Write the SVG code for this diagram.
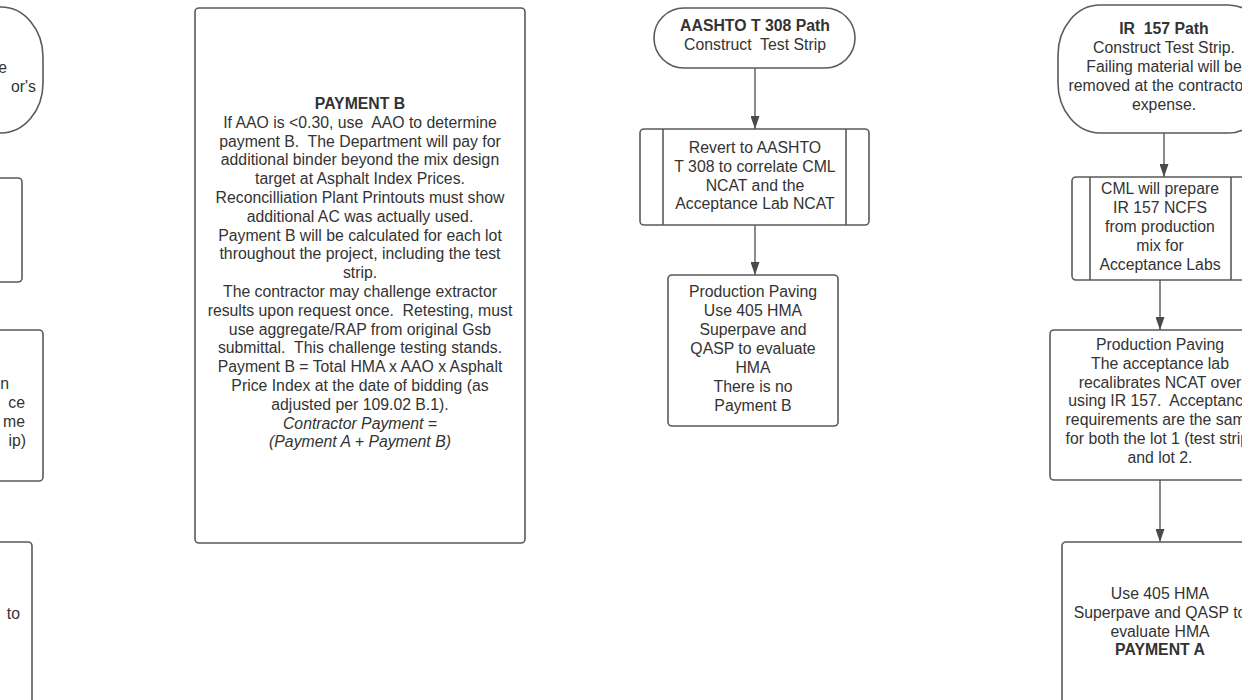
<svg xmlns="http://www.w3.org/2000/svg" width="1242" height="700" viewBox="0 0 1242 700">
<defs>
<style>
.shape{fill:#ffffff;stroke:#5a5a5a;stroke-width:1.6}
.t{font-family:"Liberation Sans",Arial,sans-serif;font-size:15.8px;fill:#333333;text-anchor:middle;white-space:pre}
.e{text-anchor:end}
.b{font-weight:bold}
.i{font-style:italic}
.conn{stroke:#5a5a5a;stroke-width:1.4;fill:none}
</style>
<marker id="arr" viewBox="0 0 13 9" refX="13" refY="4.5" markerWidth="13" markerHeight="9" markerUnits="userSpaceOnUse" orient="auto">
<path d="M0,0 L13,4.5 L0,9 z" fill="#4a4a4a"/>
</marker>
</defs>
<rect width="1242" height="700" fill="#ffffff"/>

<g id="left-terminator">
<rect class="shape" x="-180" y="7" width="223" height="126" rx="42" ry="50"/>
<text class="t e" x="7" y="73">e</text>
<text class="t e" x="36" y="92">or's</text>
</g>
<g id="left-box-2">
<rect class="shape" x="-180" y="178" width="202" height="104" rx="4"/>
</g>
<g id="left-box-3">
<rect class="shape" x="-180" y="330" width="223" height="151" rx="4"/>
<text class="t e" x="9" y="389">n</text>
<text class="t e" x="25" y="408">ce</text>
<text class="t e" x="25" y="427">me</text>
<text class="t e" x="26" y="446">ip)</text>
</g>
<g id="left-box-4">
<rect class="shape" x="-180" y="542" width="212" height="200" rx="4"/>
<text class="t e" x="20" y="619">to</text>
</g>

<g id="payment-b">
<rect class="shape" x="195" y="8" width="330" height="535" rx="4"/>
<text class="t" x="360" y="109"><tspan class="b">PAYMENT B</tspan><tspan x="360" dy="18.8">If AAO is &lt;0.30, use  AAO to determine</tspan><tspan x="360" dy="18.8">payment B.  The Department will pay for</tspan><tspan x="360" dy="18.8">additional binder beyond the mix design</tspan><tspan x="360" dy="18.8">target at Asphalt Index Prices.</tspan><tspan x="360" dy="18.8">Reconcilliation Plant Printouts must show</tspan><tspan x="360" dy="18.8">additional AC was actually used.</tspan><tspan x="360" dy="18.8">Payment B will be calculated for each lot</tspan><tspan x="360" dy="18.8">throughout the project, including the test</tspan><tspan x="360" dy="18.8">strip.</tspan><tspan x="360" dy="18.8">The contractor may challenge extractor</tspan><tspan x="360" dy="18.8">results upon request once.  Retesting, must</tspan><tspan x="360" dy="18.8">use aggregate/RAP from original Gsb</tspan><tspan x="360" dy="18.8">submittal.  This challenge testing stands.</tspan><tspan x="360" dy="18.8">Payment B = Total HMA x AAO x Asphalt</tspan><tspan x="360" dy="18.8">Price Index at the date of bidding (as</tspan><tspan x="360" dy="18.8">adjusted per 109.02 B.1).</tspan><tspan x="360" dy="18.8" class="i">Contractor Payment =</tspan><tspan x="360" dy="18.8" class="i">(Payment A + Payment B)</tspan></text>
</g>

<g id="aashto-start">
<rect class="shape" x="654" y="8" width="201" height="60" rx="30"/>
<text class="t" x="755" y="31"><tspan class="b">AASHTO T 308 Path</tspan><tspan x="755" dy="19">Construct  Test Strip</tspan></text>
</g>
<g id="aashto-revert">
<rect class="shape" x="640" y="129" width="229" height="96" rx="4"/>
<line class="shape" x1="663" y1="129" x2="663" y2="225"/>
<line class="shape" x1="846" y1="129" x2="846" y2="225"/>
<text class="t" x="755" y="153"><tspan>Revert to AASHTO</tspan><tspan x="755" dy="18.8">T 308 to correlate CML</tspan><tspan x="755" dy="18.8">NCAT and the</tspan><tspan x="755" dy="18.8">Acceptance Lab NCAT</tspan></text>
</g>
<g id="aashto-production">
<rect class="shape" x="668" y="275" width="170" height="151" rx="4"/>
<text class="t" x="753" y="297"><tspan>Production Paving</tspan><tspan x="753" dy="19">Use 405 HMA</tspan><tspan x="753" dy="19">Superpave and</tspan><tspan x="753" dy="19">QASP to evaluate</tspan><tspan x="753" dy="19">HMA</tspan><tspan x="753" dy="19">There is no</tspan><tspan x="753" dy="19">Payment B</tspan></text>
</g>

<g id="ir157-start">
<rect class="shape" x="1058" y="5" width="212" height="128" rx="42" ry="50"/>
<text class="t" x="1164" y="34"><tspan class="b">IR  157 Path</tspan><tspan x="1164" dy="19">Construct Test Strip.</tspan><tspan x="1164" dy="19">Failing material will be</tspan><tspan x="1164" dy="19">removed at the contractor's</tspan><tspan x="1164" dy="19">expense.</tspan></text>
</g>
<g id="ir157-cml">
<rect class="shape" x="1072" y="177" width="177" height="103" rx="4"/>
<line class="shape" x1="1090" y1="177" x2="1090" y2="280"/>
<line class="shape" x1="1231" y1="177" x2="1231" y2="280"/>
<text class="t" x="1160" y="194"><tspan>CML will prepare</tspan><tspan x="1160" dy="19">IR 157 NCFS</tspan><tspan x="1160" dy="19">from production</tspan><tspan x="1160" dy="19">mix for</tspan><tspan x="1160" dy="19">Acceptance Labs</tspan></text>
</g>
<g id="ir157-production">
<rect class="shape" x="1050" y="330" width="220" height="150" rx="4"/>
<text class="t" x="1160" y="350"><tspan>Production Paving</tspan><tspan x="1160" dy="18.8">The acceptance lab</tspan><tspan x="1160" dy="18.8">recalibrates NCAT over</tspan><tspan x="1160" dy="18.8">using IR 157.  Acceptance</tspan><tspan x="1160" dy="18.8">requirements are the same</tspan><tspan x="1160" dy="18.8">for both the lot 1 (test strip)</tspan><tspan x="1160" dy="18.8">and lot 2.</tspan></text>
</g>
<g id="ir157-payment-a">
<rect class="shape" x="1062" y="542" width="200" height="200" rx="4"/>
<text class="t" x="1160" y="599"><tspan>Use 405 HMA</tspan><tspan x="1160" dy="18.8">Superpave and QASP to</tspan><tspan x="1160" dy="18.8">evaluate HMA</tspan><tspan x="1160" dy="18.8" class="b">PAYMENT A</tspan></text>
</g>

<g id="connectors">
<line class="conn" x1="755" y1="68" x2="755" y2="129" marker-end="url(#arr)"/>
<line class="conn" x1="755" y1="225" x2="755" y2="275" marker-end="url(#arr)"/>
<line class="conn" x1="1164" y1="133" x2="1164" y2="177" marker-end="url(#arr)"/>
<line class="conn" x1="1160" y1="280" x2="1160" y2="330" marker-end="url(#arr)"/>
<line class="conn" x1="1160" y1="480" x2="1160" y2="542" marker-end="url(#arr)"/>
</g>
</svg>
